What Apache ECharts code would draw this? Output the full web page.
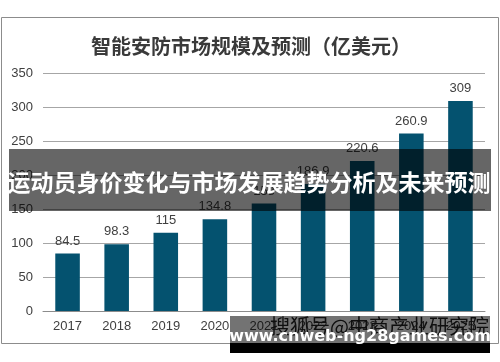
<!DOCTYPE html>
<html><head><meta charset="utf-8">
<script src="https://cdn.jsdelivr.net/npm/echarts@6/dist/echarts.min.js"></script>
<style>html,body{margin:0;padding:0;background:#fff}#c{width:500px;height:362px}</style>
</head><body><div id="c"></div>
<script>
const years = ['2017','2018','2019','2020','2021','2022','2023','2024','2025'];
const values = [84.5, 98.3, 115, 134.8, 158, 186.9, 220.6, 260.9, 309];
const yMin = 0, yMax = 350, yStep = 50;
const titleText = '智能安防市场规模及预测（亿美元）';
const bannerText = '运动员身价变化与市场发展趋势分析及未来预测';
const sourceText = '搜狐号@中商产业研究院';
const watermarkText = 'www.cnweb-ng28games.com';

const chart = echarts.init(document.getElementById('c'), null, {renderer:'canvas'});
chart.setOption({
  animation: false,
  backgroundColor: '#fff',
  title: {
    text: titleText, left: 246, top: 31, textAlign: 'center',
    textStyle: {fontFamily: 'Noto Sans CJK SC', fontSize: 20, fontWeight: 'bold', color: '#3a3a3a'}
  },
  grid: {left: 43, right: 15, top: 73, bottom: 51},
  xAxis: {
    type: 'category', data: years,
    axisLine: {lineStyle: {color: '#8c8c8c'}},
    axisTick: {show: false},
    axisLabel: {fontFamily: 'Liberation Sans', fontSize: 13, color: '#404040', margin: 9}
  },
  yAxis: {
    type: 'value', min: yMin, max: yMax, interval: yStep,
    axisLine: {show: false}, axisTick: {show: false},
    splitLine: {lineStyle: {color: '#a6a6a6'}},
    axisLabel: {fontFamily: 'Liberation Sans', fontSize: 13, color: '#404040', margin: 10}
  },
  series: [{
    type: 'bar', data: values, barWidth: '50%',
    itemStyle: {color: '#04526f'},
    label: {show: true, position: 'top', distance: 6, fontFamily: 'Liberation Sans', fontSize: 13, color: '#404040'}
  }],
  graphic: [
    {type: 'rect', silent: true, z: 50, shape: {x: 1.5, y: 17.5, width: 497, height: 326}, style: {fill: 'none', stroke: '#8c8c8c', lineWidth: 1}},
    {type: 'text', silent: true, z: 90, x: 270, y: 326, style: {text: sourceText, font: '20px "Noto Sans CJK SC"', fill: '#222', textVerticalAlign: 'middle'}},
    {type: 'rect', silent: true, z: 100, shape: {x: 9, y: 149, width: 482, height: 62}, style: {fill: 'rgba(0,0,0,0.6)'}},
    {type: 'text', silent: true, z: 101, x: 249, y: 182, style: {text: bannerText, font: 'bold 23px "Noto Sans CJK SC"', fill: '#fff', textAlign: 'center', textVerticalAlign: 'middle'}},
    {type: 'rect', silent: true, z: 100, shape: {x: 230, y: 316, width: 260, height: 27}, style: {fill: 'rgba(0,0,0,0.55)'}},
    {type: 'rect', silent: true, z: 100, shape: {x: 230, y: 343, width: 260, height: 10}, style: {fill: '#000'}},
    {type: 'text', silent: true, z: 101, x: 360, y: 337, style: {text: watermarkText, font: 'bold 16px "DejaVu Sans"', fill: '#fff', textAlign: 'center', textVerticalAlign: 'middle'}}
  ]
});
</script></body></html>
